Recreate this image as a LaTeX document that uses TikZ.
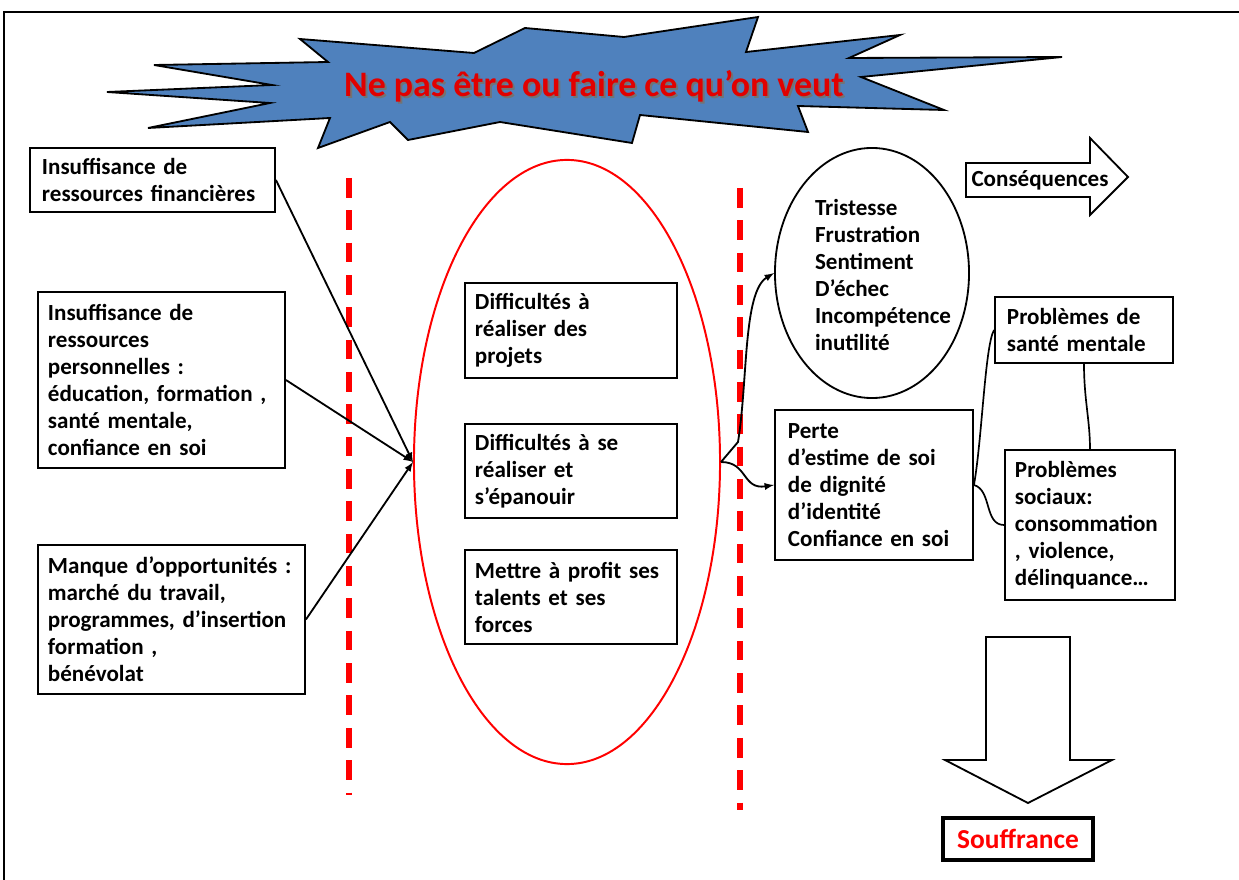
\documentclass[tikz,border=0pt]{standalone}
\usepackage{fontspec}
\setmainfont{Carlito}
\usetikzlibrary{shapes.geometric}
\definecolor{bleuetoile}{RGB}{79,129,189}
\definecolor{rougevif}{RGB}{255,0,0}
\definecolor{rougetitre}{RGB}{225,0,0}
\tikzset{
  texte/.style={font=\bfseries\fontsize{16.4}{19.2}\selectfont},
  boite/.style={texte, draw, line width=1.3pt, align=left, inner xsep=0.3cm, inner ysep=0pt},
  fleche/.style={-latex, line width=1.3pt},
  lien/.style={line width=1.2pt},
  pointilles/.style={rougevif, line width=4.4pt, dash pattern=on 14pt off 9pt},
}
\begin{document}
\begin{tikzpicture}[x=0.025cm, y=-0.025cm]
    \useasboundingbox (0,0) rectangle (1239,880);
    \draw[line width=1.5pt] (4,880) -- (4,12) -- (1239,12);

    \draw[fill=bleuetoile, line width=1.3pt] (107,92) -- (272,85) -- (154,65) -- (328,62) -- (300,39) -- (474,53)
        -- (525,28) -- (624,37) -- (758,17) -- (746,52) -- (900,35) -- (849,58) -- (1062,57) -- (861,77)
        -- (944,110) -- (798,106) -- (808,132) -- (640,115) -- (632,143) -- (500,122) -- (408,140) -- (390,122)
        -- (318,148) -- (330,118) -- (148,128) -- (270,103) -- cycle;
    \node[font=\bfseries\fontsize{25.5}{28}\selectfont, black!55] (ombre) at (596,88) {Ne pas être ou faire ce qu’on veut};
    \node[font=\bfseries\fontsize{25.5}{28}\selectfont, rougetitre] (titre) at (594,86) {Ne pas être ou faire ce qu’on veut};

    \draw[pointilles] (349,178) -- (349,795);
    \draw[pointilles] (740,188) -- (740,810);

    \node[boite, text width=5.525cm, minimum height=1.6cm] (fin) at (152.5,180) {Insuffisance de\\ressources financières};
    \node[boite, inner xsep=0.25cm, text width=5.675cm, minimum height=4.4cm] (perso) at (161.5,380)
        {Insuffisance de\\ressources\\personnelles :\\éducation, formation ,\\santé mentale,\\confiance en soi};
    \node[boite, inner xsep=0.25cm, text width=6.175cm, minimum height=3.725cm] (oppo) at (171.5,619.5)
        {Manque d’opportunités :\\marché du travail,\\programmes, d’insertion\\formation ,\\bénévolat};

    \node[draw=rougevif, line width=1.4pt, ellipse, minimum width=7.65cm, minimum height=15.1cm] (ovale) at (567,462) {};
    \node[boite, inner xsep=0.25cm, text width=4.8cm, minimum height=2.375cm] (projets) at (571,330.5)
        {Difficultés à\\réaliser des\\projets};
    \node[boite, inner xsep=0.25cm, text width=4.8cm, minimum height=2.35cm] (epanouir) at (571,471)
        {Difficultés à se\\réaliser et\\s’épanouir};
    \node[boite, inner xsep=0.25cm, text width=4.8cm, minimum height=2.35cm] (talents) at (571,597)
        {Mettre à profit ses\\talents et ses\\forces};

    \draw[fleche] (fin.east) -- (ovale.west);
    \draw[fleche] (perso.east) -- (ovale.west);
    \draw[fleche] (oppo.east) -- (ovale.west);

    \node[draw, line width=1.3pt, ellipse, minimum width=4.85cm, minimum height=6.25cm] (emotions) at (872,273) {};
    \node[texte, align=left] (emotxt) at (883,275) {Tristesse\\Frustration\\Sentiment\\D’échec\\Incompétence\\inutilité};

    \draw[line width=1.3pt] (966,163) -- (1090,163) -- (1090,138) -- (1128,177) -- (1090,215) -- (1090,197) -- (966,197) -- cycle;
    \node[texte] (cons) at (1040,180) {Conséquences};

    \node[boite, inner xsep=0.325cm, text width=4.3cm, minimum height=3.75cm] (perte) at (874,485)
        {Perte\\d’estime de soi\\de dignité\\d’identité\\Confiance en soi};
    \node[boite, text width=3.85cm, minimum height=1.65cm] (sante) at (1084,330) {Problèmes de\\santé mentale};
    \node[boite, inner xsep=0.25cm, text width=3.75cm, minimum height=3.75cm] (sociaux) at (1090,525)
        {Problèmes\\sociaux:\\consommation\\, violence,\\délinquance…};

    \draw[fleche] (ovale.east) -- (738,442) .. controls (748,380) and (743,292) .. (emotions.west);
    \draw[fleche] (ovale.east) .. controls (748,462) and (742,490) .. (perte.west);
    \draw[lien] (sante.west) .. controls (985,345) and (982,440) .. (perte.east);
    \draw[lien] (perte.east) .. controls (992,490) and (984,525) .. (sociaux.west);
    \draw[lien] (sante.south) .. controls (1084,400) and (1090,420) .. (sociaux.north);

    \draw[line width=1.3pt] (986,637) -- (1070,637) -- (1070,760) -- (1112,760) -- (1028,803) -- (945,760) -- (986,760) -- cycle;
    \node[draw, line width=3.5pt, minimum width=3.75cm, minimum height=1.05cm, text=rougevif,
        font=\bfseries\fontsize{19.5}{22}\selectfont] (souffrance) at (1018,839) {Souffrance};
\end{tikzpicture}
\end{document}
